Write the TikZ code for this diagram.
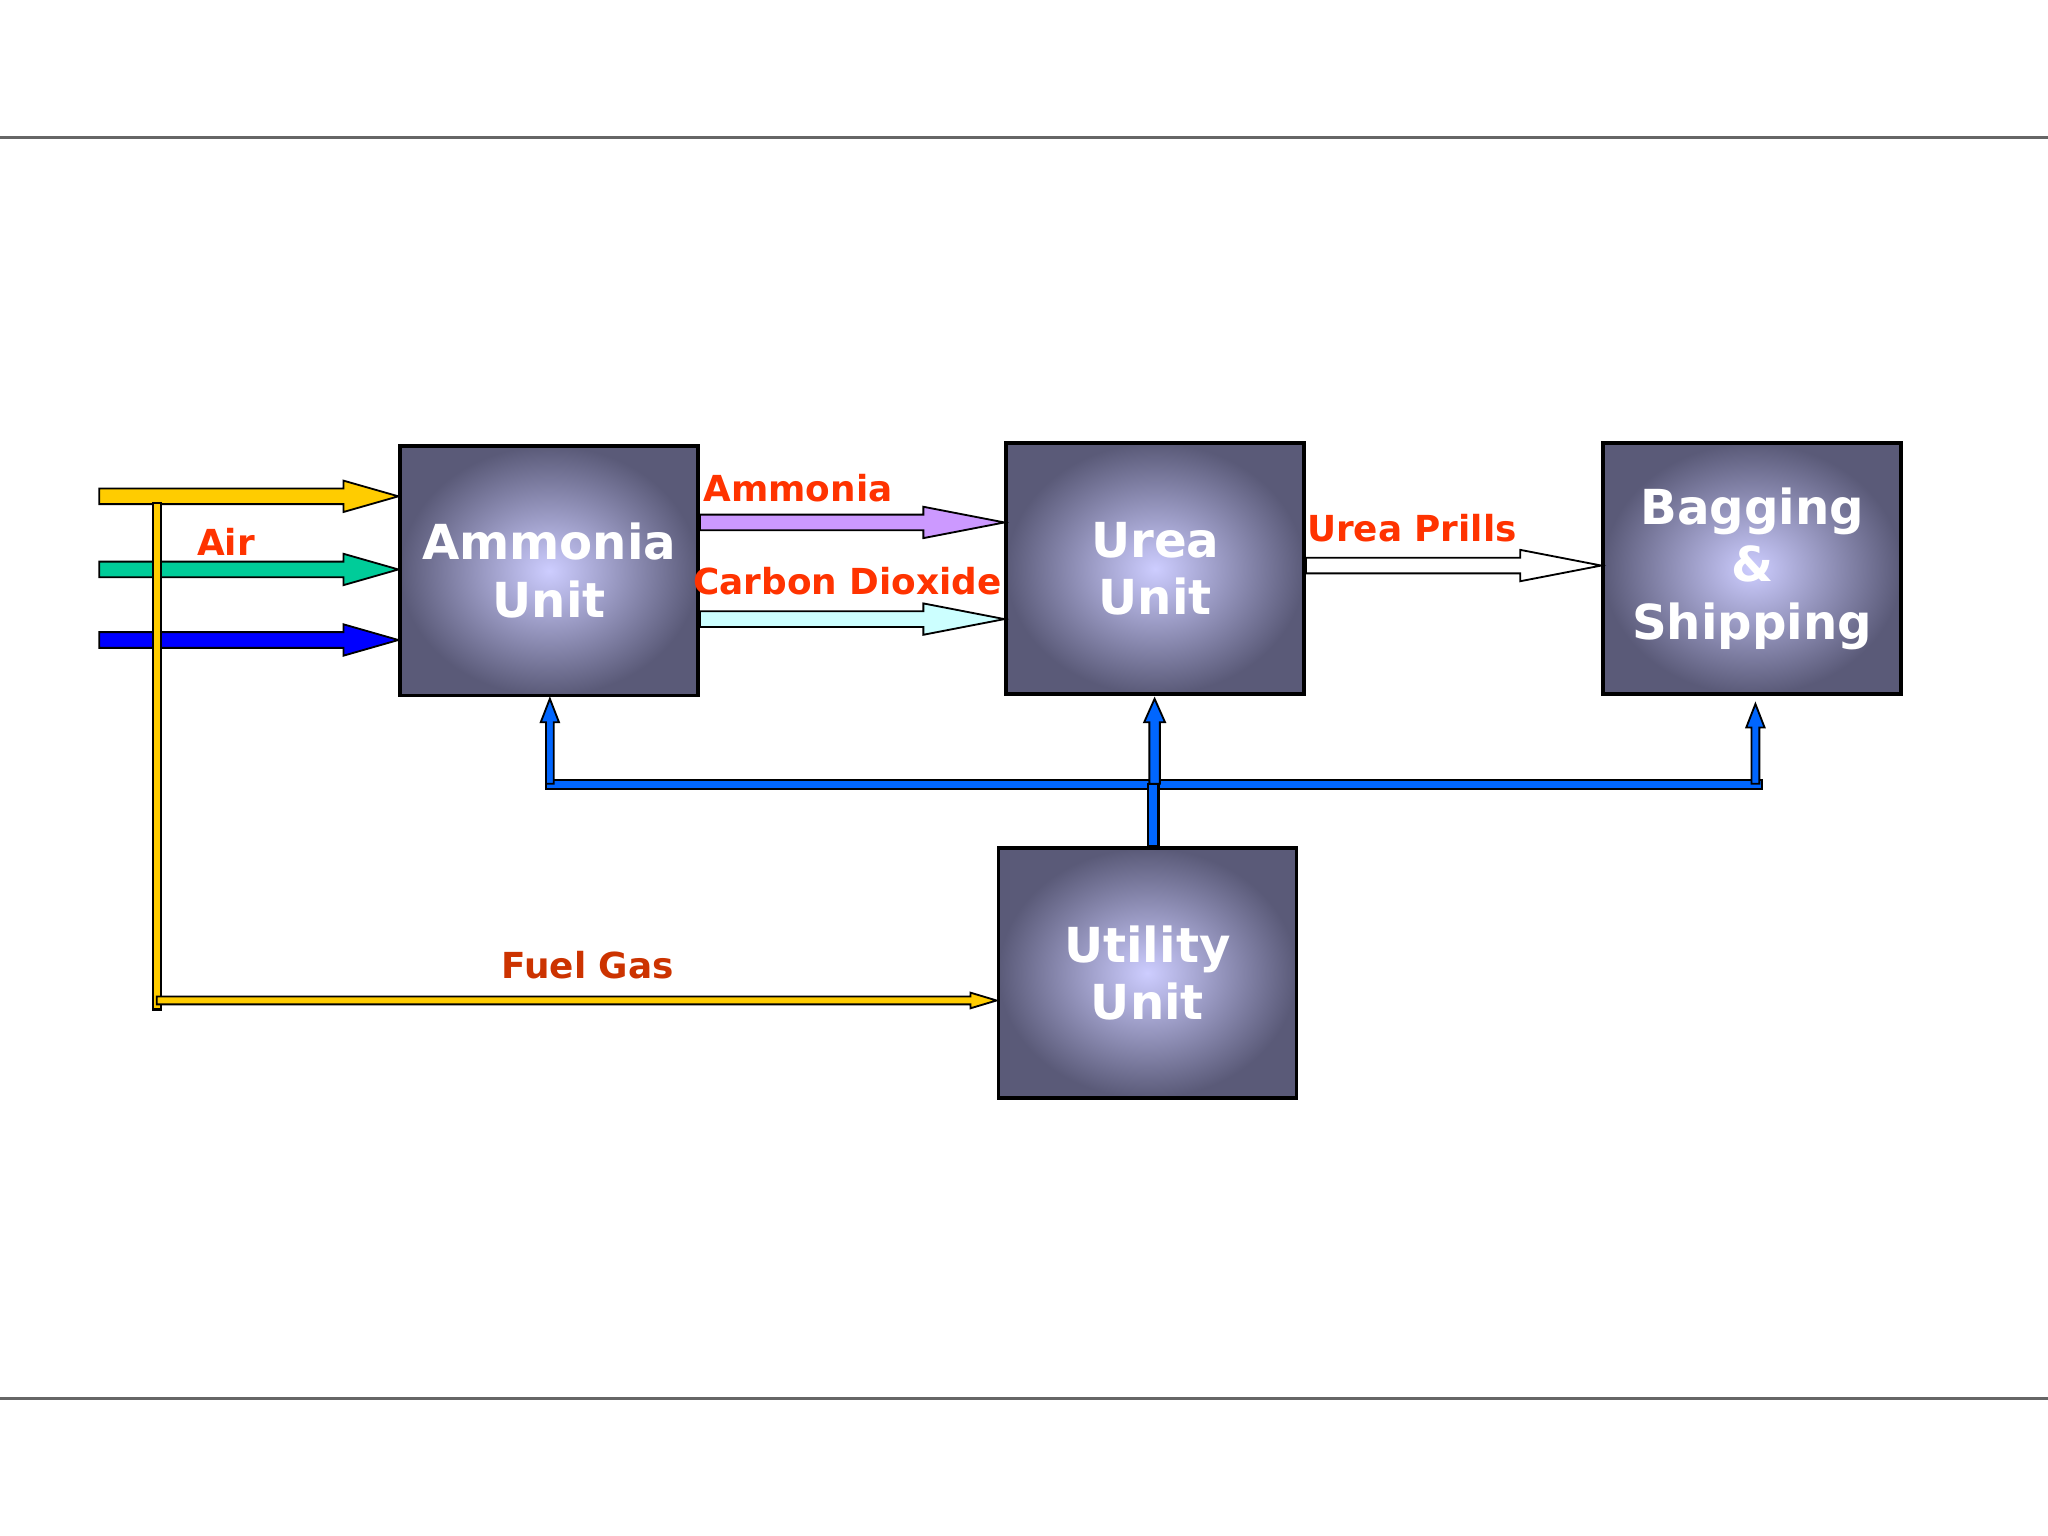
\documentclass[tikz,border=0pt]{standalone}
\usepackage{fontspec}
\setmainfont{DejaVu Sans}
\usetikzlibrary{calc}
\definecolor{lab}{HTML}{FF3300}
\definecolor{fuel}{HTML}{CC3300}
\definecolor{ylw}{HTML}{FFCC00}
\definecolor{grn}{HTML}{00CC99}
\definecolor{blu}{HTML}{0000FF}
\definecolor{util}{HTML}{0066FF}
\definecolor{vio}{HTML}{CC99FF}
\definecolor{cya}{HTML}{CCFFFF}
\newcommand\harrow[6]{\draw[fill=#6] let \p1=(#1),\p2=(#2) in
 (\x1,\y1+#3) -- (\x2-#5,\y1+#3) -- (\x2-#5,\y1+#4) -- (\x2,\y1) -- (\x2-#5,\y1-#4) -- (\x2-#5,\y1-#3) -- (\x1,\y1-#3) -- cycle;}
\newcommand\varrow[6]{\draw[fill=#6] let \p1=(#1),\p2=(#2) in
 (\x1+#3,\y1) -- (\x1+#3,\y2-#5) -- (\x1+#4,\y2-#5) -- (\x1,\y2) -- (\x1-#4,\y2-#5) -- (\x1-#3,\y2-#5) -- (\x1-#3,\y1) -- cycle;}
\begin{document}
\begin{tikzpicture}[x=0.01cm,y=-0.01cm,
 unit/.style={draw=black,line width=0.8pt,minimum width=2.28cm,minimum height=1.91cm,
   inner color={rgb,255:red,205;green,205;blue,255},outer color={rgb,255:red,90;green,90;blue,120},
   text=white,font=\bfseries\fontsize{10.5}{12.6}\selectfont,align=center,anchor=north west,inner sep=0pt},
 lbl/.style={text=lab,font=\bfseries\fontsize{7.8}{9}\selectfont}]
\useasboundingbox[fill=white] (0,0) rectangle (1568,1176);
\draw[gray!80!black,line width=0.6pt] (0,105) -- (1568,105) (0,1071) -- (1568,1071);
\node[unit] (amm) at (305,340) {Ammonia\\Unit};
\node[unit,minimum height=1.92cm] (urea) at (769,338) {Urea\\Unit};
\node[unit,minimum height=1.92cm] (bag) at (1226,338) {Bagging\\\&\\Shipping};
\node[unit] (uti) at (763,648) {Utility\\Unit};
% feed arrows
\coordinate (y0) at (76,380); \coordinate (y1) at (305,380);
\coordinate (g0) at (76,436); \coordinate (g1) at (305,436);
\coordinate (b0) at (76,490); \coordinate (b1) at (305,490);
\harrow{y0}{y1}{0.06cm}{0.12cm}{0.42cm}{ylw}
\harrow{g0}{g1}{0.06cm}{0.12cm}{0.42cm}{grn}
\harrow{b0}{b1}{0.06cm}{0.12cm}{0.42cm}{blu}
% fuel gas
\coordinate (f0) at (120,385); \coordinate (f1) at (120,773);
\draw[fill=ylw,line width=0.5pt] (117,385) rectangle (123,773);
\coordinate (fs) at (120,766); \coordinate (fe) at (uti.west|-fs);
\harrow{fs}{fe}{0.03cm}{0.06cm}{0.2cm}{ylw}
\node[lbl,text=fuel] at (450,739) {Fuel Gas};
\node[lbl] at (173,415) {Air};
% products
\coordinate (a0) at (amm.east|-0,400); \coordinate (a1) at (urea.west|-0,400);
\harrow{a0}{a1}{0.06cm}{0.12cm}{0.62cm}{vio}
\coordinate (c0) at (amm.east|-0,474); \coordinate (c1) at (urea.west|-0,474);
\harrow{c0}{c1}{0.06cm}{0.12cm}{0.62cm}{cya}
\node[lbl] at (611,374) {Ammonia};
\node[lbl] at (649,445) {Carbon Dioxide};
\coordinate (p0) at (urea.east|-0,433); \coordinate (p1) at (bag.west|-0,433);
\harrow{p0}{p1}{0.06cm}{0.12cm}{0.62cm}{white}
\node[lbl] at (1081,404) {Urea Prills};
% utilities
\draw[fill=util,line width=0.5pt] (418,597) rectangle (1349,604);
\coordinate (u0) at (883,648); \coordinate (u1) at (883,600);
\draw[fill=util,line width=0.5pt] (879,600) rectangle (887,648);
\coordinate (v1) at (421,600); \coordinate (v2) at (421,535);
\varrow{v1}{v2}{0.03cm}{0.07cm}{0.18cm}{util}
\coordinate (w1) at (884,600); \coordinate (w2) at (884,535);
\varrow{w1}{w2}{0.04cm}{0.08cm}{0.18cm}{util}
\coordinate (x1) at (1344,600); \coordinate (x2) at (1344,539);
\varrow{x1}{x2}{0.03cm}{0.07cm}{0.18cm}{util}
\end{tikzpicture}
\end{document}
